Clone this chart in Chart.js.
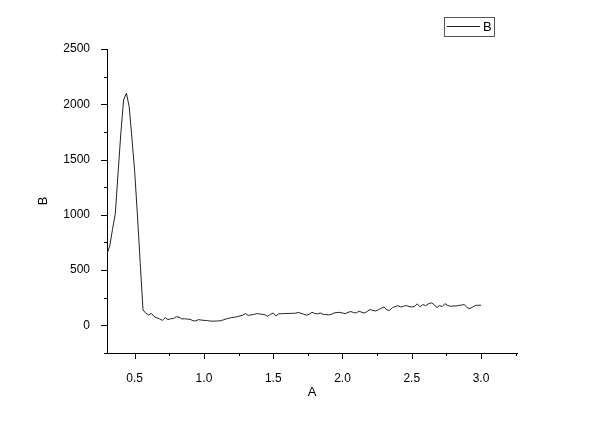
<!DOCTYPE html>
<html>
<head>
<meta charset="utf-8">
<script src="https://cdn.jsdelivr.net/npm/chart.js@4.4.0/dist/chart.umd.min.js"></script>
<style>
  html, body { margin: 0; padding: 0; background: #fff; }
  canvas { display: block; }
</style>
</head>
<body>
<canvas id="chart" width="600" height="424"></canvas>
<script>
// --- data ---
const xValues = [
  0.30, 0.32, 0.34, 0.36, 0.38, 0.40, 0.42, 0.44, 0.46, 0.48,
  0.50, 0.52, 0.54, 0.56, 0.58, 0.60, 0.62, 0.64, 0.66, 0.68,
  0.70, 0.72, 0.74, 0.76, 0.78, 0.80, 0.82, 0.84, 0.86, 0.88,
  0.90, 0.92, 0.94, 0.96, 0.98, 1.00, 1.02, 1.04, 1.06, 1.08,
  1.10, 1.12, 1.14, 1.16, 1.18, 1.20, 1.22, 1.24, 1.26, 1.28,
  1.30, 1.32, 1.34, 1.36, 1.38, 1.40, 1.42, 1.44, 1.46, 1.48,
  1.50, 1.52, 1.54, 1.56, 1.58, 1.60, 1.62, 1.64, 1.66, 1.68,
  1.70, 1.72, 1.74, 1.76, 1.78, 1.80, 1.82, 1.84, 1.86, 1.88,
  1.90, 1.92, 1.94, 1.96, 1.98, 2.00, 2.02, 2.04, 2.06, 2.08,
  2.10, 2.12, 2.14, 2.16, 2.18, 2.20, 2.22, 2.24, 2.26, 2.28,
  2.30, 2.32, 2.34, 2.36, 2.38, 2.40, 2.42, 2.44, 2.46, 2.48,
  2.50, 2.52, 2.54, 2.56, 2.58, 2.60, 2.62, 2.64, 2.66, 2.68,
  2.70, 2.72, 2.74, 2.76, 2.78, 2.80, 2.82, 2.84, 2.86, 2.88,
  2.90, 2.92, 2.94, 2.96, 2.98, 3.00
];
const bValues = [
  645, 720, 870, 1010, 1380, 1740, 2040, 2100, 1980, 1690,
  1390, 990, 560, 140, 110, 95, 108, 80, 68, 58,
  45, 70, 52, 60, 62, 78, 74, 58, 60, 56,
  55, 42, 40, 52, 48, 45, 44, 40, 38, 39,
  40, 42, 50, 58, 64, 70, 74, 78, 86, 92,
  106, 90, 95, 98, 106, 104, 100, 96, 82, 100,
  112, 85, 104, 106, 107, 108, 108, 109, 110, 116,
  110, 100, 92, 100, 118, 108, 104, 112, 100, 98,
  94, 100, 112, 116, 118, 112, 106, 118, 125, 116,
  112, 128, 118, 112, 128, 143, 135, 130, 142, 155,
  166, 140, 135, 160, 170, 178, 166, 172, 179, 170,
  166, 170, 195, 168, 188, 178, 195, 204, 190, 161,
  178, 170, 197, 180, 173, 175, 176, 180, 184, 188,
  160, 152, 166, 180, 182, 182
];
const xTickLabels = [0.5, 1.0, 1.5, 2.0, 2.5, 3.0];
const xMinorTicks = [0.75, 1.25, 1.75, 2.25, 2.75, 3.25];
const yTickLabels = [0, 500, 1000, 1500, 2000, 2500];
const yMinorTicks = [-250, 250, 750, 1250, 1750, 2250];

const FONT = 'Liberation Sans, Arial, sans-serif';

// Origin-style outward tick marks + boxed legend
const originDecor = {
  id: 'originDecor',
  afterDraw(chart) {
    const { ctx, chartArea, scales } = chart;
    const xs = scales.x, ys = scales.y;
    ctx.save();
    ctx.strokeStyle = '#000';
    ctx.lineWidth = 1;
    ctx.beginPath();
    xTickLabels.forEach(v => {
      const p = Math.round(xs.getPixelForValue(v)) + 0.5;
      ctx.moveTo(p, chartArea.bottom); ctx.lineTo(p, chartArea.bottom + 6);
    });
    xMinorTicks.forEach(v => {
      const p = Math.round(xs.getPixelForValue(v)) + 0.5;
      ctx.moveTo(p, chartArea.bottom); ctx.lineTo(p, chartArea.bottom + 3);
    });
    yTickLabels.forEach(v => {
      const p = Math.round(ys.getPixelForValue(v)) + 0.5;
      ctx.moveTo(chartArea.left, p); ctx.lineTo(chartArea.left - 6, p);
    });
    yMinorTicks.forEach(v => {
      const p = Math.round(ys.getPixelForValue(v)) + 0.5;
      ctx.moveTo(chartArea.left, p); ctx.lineTo(chartArea.left - 3, p);
    });
    ctx.stroke();

    // legend box
    const ds = chart.data.datasets[0];
    ctx.strokeStyle = '#555';
    ctx.strokeRect(444.5, 17.5, 50, 19);
    ctx.strokeStyle = ds.borderColor;
    ctx.beginPath();
    ctx.moveTo(447, 26.5); ctx.lineTo(480, 26.5);
    ctx.stroke();
    ctx.fillStyle = '#000';
    ctx.font = '13px ' + FONT;
    ctx.textBaseline = 'middle';
    ctx.textAlign = 'left';
    ctx.fillText(ds.label, 483, 27.5);
    ctx.restore();
  }
};

new Chart(document.getElementById('chart').getContext('2d'), {
  type: 'line',
  data: {
    datasets: [{
      label: 'B',
      data: xValues.map((x, i) => ({ x, y: bValues[i] })),
      borderColor: '#222',
      borderWidth: 1,
      pointRadius: 0,
      tension: 0,
      fill: false,
    }]
  },
  options: {
    responsive: false,
    animation: false,
    layout: { padding: { top: 49, right: 83, bottom: 0, left: 0 } },
    plugins: {
      legend: { display: false },
      tooltip: { enabled: false },
    },
    scales: {
      x: {
        type: 'linear',
        min: 0.3,
        max: 3.26,
        afterFit: s => { s.height = 71; },
        afterBuildTicks: s => { s.ticks = xTickLabels.map(v => ({ value: v })); },
        grid: { display: false },
        border: { display: true, color: '#000', width: 1 },
        ticks: {
          padding: 10,
          color: '#000',
          font: { family: FONT, size: 12 },
          maxRotation: 0,
          callback: v => Number(v).toFixed(1),
        },
        title: {
          display: true,
          text: 'A',
          color: '#000',
          font: { family: FONT, size: 13 },
          padding: { top: 0, bottom: 24 },
        }
      },
      y: {
        type: 'linear',
        min: -250,
        max: 2500,
        afterFit: s => { s.width = 107; },
        afterBuildTicks: s => { s.ticks = yTickLabels.map(v => ({ value: v })); },
        grid: { display: false },
        border: { display: true, color: '#000', width: 1 },
        ticks: {
          padding: 9,
          color: '#000',
          font: { family: FONT, size: 12 },
          callback: v => String(v),
        },
        title: {
          display: true,
          text: 'B',
          color: '#000',
          font: { family: FONT, size: 13 },
          padding: { top: 36, bottom: 0 },
        }
      }
    }
  },
  plugins: [originDecor]
});
</script>
</body>
</html>
